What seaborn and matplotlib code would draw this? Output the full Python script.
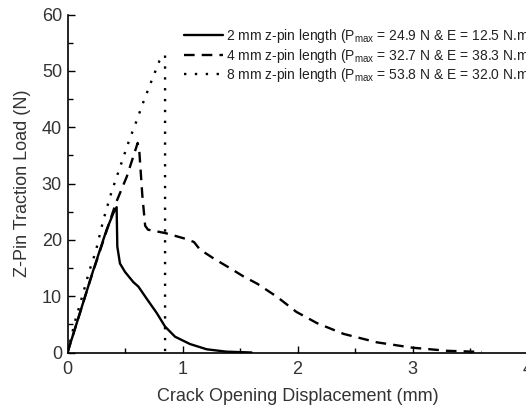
import matplotlib
matplotlib.use("Agg")
import matplotlib.pyplot as plt
import seaborn as sns
from matplotlib.ticker import MultipleLocator

# Traction-separation curves for three z-pin lengths
x_2mm = [0.0, 0.10, 0.224, 0.34, 0.40, 0.427, 0.433, 0.456, 0.50, 0.572, 0.616,
         0.69, 0.776, 0.848, 0.935, 1.065, 1.21, 1.38, 1.60]
y_2mm = [0.0, 6.5, 14.6, 21.8, 24.8, 25.8, 18.8, 15.8, 14.3, 12.5, 11.7,
         9.5, 7.0, 4.6, 2.8, 1.5, 0.57, 0.15, 0.0]

x_4mm = [0.0, 0.20, 0.42, 0.515, 0.61, 0.625, 0.65, 0.675, 0.70, 0.85, 1.04,
         1.10, 1.15, 1.27, 1.41, 1.53, 1.65, 1.82, 1.99, 2.17, 2.40, 2.69,
         3.00, 3.30, 3.60]
y_4mm = [0.0, 13.0, 26.5, 31.2, 37.2, 35.5, 28.0, 22.5, 21.8, 21.2, 20.1,
         19.6, 18.3, 16.7, 15.0, 13.5, 12.2, 9.9, 7.2, 5.2, 3.3, 1.8,
         0.85, 0.3, 0.1]

x_8mm = [0.0, 0.065, 0.137, 0.19, 0.245, 0.31, 0.384, 0.413, 0.535, 0.60,
         0.66, 0.73, 0.80, 0.84, 0.848, 0.848]
y_8mm = [0.0, 5.5, 10.6, 14.5, 17.9, 23.4, 28.6, 30.3, 37.6, 41.1,
         44.5, 48.2, 51.8, 52.8, 52.8, 0.0]

labels = [
    r"2 mm z-pin length (P$_{\rm max}$ = 24.9 N & E = 12.5 N.mm)",
    r"4 mm z-pin length (P$_{\rm max}$ = 32.7 N & E = 38.3 N.mm)",
    r"8 mm z-pin length (P$_{\rm max}$ = 53.8 N & E = 32.0 N.mm)",
]

x_ticks = [0, 1, 2, 3, 4]
y_ticks = [0, 10, 20, 30, 40, 50, 60]

sns.set_style("ticks")
plt.rcParams["font.family"] = ["Liberation Sans", "DejaVu Sans"]
plt.rcParams["mathtext.fontset"] = "custom"
plt.rcParams["mathtext.rm"] = "Liberation Sans"
plt.rcParams["mathtext.it"] = "Liberation Sans:italic"
plt.rcParams["xtick.direction"] = "in"
plt.rcParams["ytick.direction"] = "in"

fig = plt.figure(figsize=(5.26, 4.08), dpi=100)
ax = fig.add_axes([67.5 / 526, (408 - 352.5) / 408,
                   (527.7 - 67.5) / 526, (352.5 - 14.5) / 408])

styles = [
    dict(linestyle="-"),
    dict(linestyle=(0, (4.5, 3.0))),
    dict(linestyle=(0, (1.0, 3.6))),
]
series = [(x_2mm, y_2mm), (x_4mm, y_4mm), (x_8mm, y_8mm)]
for (xs, ys), lab, st in zip(series, labels, styles):
    sns.lineplot(x=xs, y=ys, ax=ax, estimator=None, sort=False,
                 color="black", linewidth=1.7, label=lab, **st)

ax.set_xlim(0, 4)
ax.set_ylim(0, 60)
ax.set_xticks(x_ticks)
ax.set_yticks(y_ticks)
ax.xaxis.set_minor_locator(MultipleLocator(0.5))
ax.yaxis.set_minor_locator(MultipleLocator(5))
ax.tick_params(which="major", length=5, width=1.0, labelsize=13,
               colors="black", labelcolor="#333333")
ax.tick_params(axis="x", which="major", pad=6)
ax.tick_params(axis="y", which="major", pad=4)
ax.tick_params(which="minor", length=3.5, width=1.0, colors="black")
for side in ("top", "right"):
    ax.spines[side].set_visible(False)
for side in ("left", "bottom"):
    ax.spines[side].set_linewidth(1.2)
    ax.spines[side].set_color("black")

ax.set_xlabel("Crack Opening Displacement (mm)", fontsize=13,
              color="#333333", labelpad=7)
ax.set_ylabel("Z-Pin Traction Load (N)", fontsize=13,
              color="#333333", labelpad=8)

leg = ax.legend(loc="upper left", bbox_to_anchor=(184 / 526, 1 - 27 / 408),
                bbox_transform=fig.transFigure, frameon=False, fontsize=10,
                handlelength=2.8, handletextpad=0.2, borderpad=0,
                borderaxespad=0, labelspacing=0.12)
for t in leg.get_texts():
    t.set_color("#222222")

fig.savefig("out.png", dpi=100)
